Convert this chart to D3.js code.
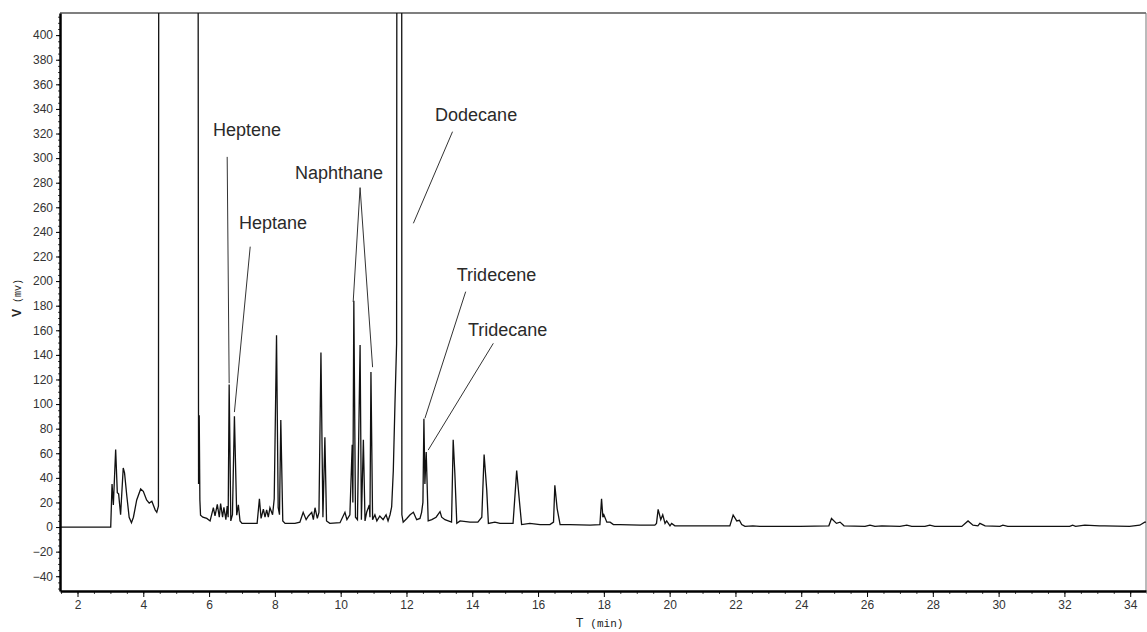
<!DOCTYPE html>
<html>
<head>
<meta charset="utf-8">
<script src="https://cdn.jsdelivr.net/npm/d3@7"></script>
<style>
  body { margin: 0; background: #fff; }
  svg { display: block; }
</style>
</head>
<body>
<div id="chart_gc"></div>
<script>

//////// DATA ////////
// retention time (min) and detector signal (mv); 1000 = off scale (solvent / dodecane)
var times = [1.45, 3.01, 3.05, 3.09, 3.16, 3.21, 3.25, 3.31, 3.39, 3.43, 3.50, 3.57, 3.64, 3.70, 3.80, 3.92,
    4.00, 4.10, 4.18, 4.26, 4.36, 4.41, 4.46, 4.48, 5.65, 5.68, 5.70, 5.72, 5.74, 5.81, 5.93, 6.03,
    6.13, 6.18, 6.25, 6.31, 6.35, 6.41, 6.45, 6.51, 6.55, 6.58, 6.61, 6.66, 6.71, 6.77, 6.84, 6.89,
    6.94, 7.00, 7.24, 7.46, 7.53, 7.58, 7.65, 7.70, 7.75, 7.80, 7.85, 7.93, 7.98, 8.05, 8.10, 8.14,
    8.18, 8.24, 8.31, 8.61, 8.76, 8.86, 8.95, 9.02, 9.12, 9.17, 9.22, 9.29, 9.34, 9.40, 9.46, 9.52,
    9.57, 9.67, 9.98, 10.13, 10.19, 10.28, 10.35, 10.37, 10.40, 10.45, 10.51, 10.59, 10.63, 10.69, 10.74, 10.79,
    10.87, 10.89, 10.92, 10.97, 11.04, 11.10, 11.19, 11.29, 11.38, 11.44, 11.50, 11.55, 11.60, 11.65, 11.70, 11.72,
    11.85, 11.86, 11.90, 12.01, 12.11, 12.16, 12.21, 12.31, 12.41, 12.46, 12.50, 12.53, 12.56, 12.60, 12.66, 12.77,
    12.90, 13.02, 13.07, 13.17, 13.27, 13.37, 13.42, 13.47, 13.53, 13.63, 13.93, 14.17, 14.29, 14.36, 14.44, 14.49,
    14.69, 14.84, 15.00, 15.24, 15.35, 15.43, 15.50, 15.75, 16.06, 16.36, 16.47, 16.51, 16.58, 16.67, 16.97, 17.58,
    17.88, 17.93, 17.97, 18.00, 18.09, 18.19, 18.29, 18.49, 19.10, 19.55, 19.60, 19.65, 19.73, 19.79, 19.86, 19.91,
    20.01, 20.06, 20.16, 20.92, 21.83, 21.93, 22.04, 22.12, 22.19, 22.29, 22.53, 22.74, 23.05, 23.96, 24.84, 24.92,
    25.07, 25.18, 25.30, 25.94, 26.09, 26.24, 26.45, 27.00, 27.21, 27.36, 27.76, 27.91, 28.06, 28.88, 29.07, 29.22,
    29.37, 29.43, 29.59, 30.04, 30.13, 30.28, 32.16, 32.25, 32.34, 32.62, 33.07, 33.22, 33.98, 34.29, 34.44, 34.55];

var signal = [0, 0, 35, 18, 63, 28, 27, 10, 48, 44, 25, 8, 3.5, 8, 22, 31,
    29, 22, 19.5, 21, 14, 12, 17, 1000, 1000, 35, 91, 22, 9.7, 8, 7, 5,
    15.7, 9, 18.4, 8, 19, 8, 16, 6, 17, 8, 116, 5, 10, 90, 9.7, 18,
    5, 3, 3, 3, 23, 7, 14.6, 8, 14, 8, 15.7, 10, 23, 156, 16, 10,
    87, 5, 3, 3, 4, 12, 6, 9, 12, 6, 15.7, 7, 12, 142, 8, 73,
    5, 3, 3.5, 12, 6, 10, 67, 20, 184, 8, 6, 148, 6, 71, 5, 12,
    18, 8, 126, 6, 10, 5, 9, 6, 10, 5, 10, 16.5, 46, 100, 149, 1000,
    1000, 10, 4, 7, 10, 11, 12, 6, 7, 12, 20, 88, 35, 61, 5, 6,
    8, 12.5, 8, 6, 5, 4, 71, 44, 3, 5, 4, 4, 8, 59, 30, 3,
    4, 3, 3, 3, 46, 22, 2, 3, 2, 2, 4, 34, 15, 2, 2, 1.5,
    2, 23, 8, 10, 4, 4, 2, 2, 1.5, 1.5, 3, 14.4, 6, 10, 3, 5,
    1, 3, 1, 1, 1, 9.8, 5, 5.5, 2, 0.5, 1, 0.5, 0.5, 0.5, 1, 7,
    3, 4, 1, 0.5, 1.5, 0.5, 1, 0.5, 1.5, 0.5, 0.5, 1.5, 0.5, 0.5, 5, 1.5,
    1, 3, 1, 0.5, 1.5, 0.5, 0.5, 1.5, 0.5, 1.5, 1, 1, 0.5, 1.5, 4, 4];

var xTickValues = [2, 4, 6, 8, 10, 12, 14, 16, 18, 20, 22, 24, 26, 28, 30, 32, 34];
var yTickValues = [-40, -20, 0, 20, 40, 60, 80, 100, 120, 140, 160, 180, 200, 220, 240, 260, 280, 300, 320, 340, 360, 380, 400];

// peak names, label anchor (t, v) and leader lines (t, v)
var peakNames = ["Heptene", "Heptane", "Naphthane", "Dodecane", "Tridecene", "Tridecane"];
var labelT = [6.12, 6.91, 8.61, 12.87, 13.53, 13.87];
var labelV = [318, 242, 283, 330, 200, 155];
var leaders = [
    [[6.55, 301], [6.61, 117]],
    [[7.25, 228], [6.77, 93.5]],
    [[10.38, 183], [10.59, 276], [10.97, 130]],
    [[13.40, 321.5], [12.21, 247]],
    [[13.80, 191.4], [12.56, 88.4]],
    [[14.64, 149.4], [12.66, 62.6]]
];

//////// CANVAS ////////
var outerWidth = 1147, outerHeight = 632;
var margin = {top: 13, right: 1, bottom: 41, left: 60};
var width = outerWidth - margin.left - margin.right,
    height = outerHeight - margin.top - margin.bottom;

var svg = d3.select("#chart_gc").append("svg")
    .attr("width", outerWidth)
    .attr("height", outerHeight)
    .attr("font-family", "Liberation Sans, Arial, sans-serif");

var g = svg.append("g")
    .attr("transform", "translate(" + margin.left + "," + margin.top + ")");

//////// SCALES ////////
var xScale = d3.scaleLinear()
    .domain([1.468, 34.48])
    .range([0, width]);

var yScale = d3.scaleLinear()
    .domain([-52, 418])
    .range([height, 0]);

// clip for the off-scale peaks
svg.append("defs").append("clipPath")
    .attr("id", "plotClip")
  .append("rect")
    .attr("width", width)
    .attr("height", height);

//////// FRAME ////////
g.append("line")
    .attr("x1", 0).attr("x2", width)
    .attr("y1", 0).attr("y2", 0)
    .attr("stroke", "#555").attr("stroke-width", 1.5);

g.append("line")
    .attr("x1", width).attr("x2", width)
    .attr("y1", 0).attr("y2", height)
    .attr("stroke", "#777").attr("stroke-width", 1);

//////// TRACE ////////
var trace = times.map(function(t, i) { return [t, signal[i]]; });

var line = d3.line()
    .x(function(d) { return xScale(d[0]); })
    .y(function(d) { return yScale(d[1]); });

g.append("path")
    .datum(trace)
    .attr("clip-path", "url(#plotClip)")
    .attr("fill", "none")
    .attr("stroke", "#111")
    .attr("stroke-width", 1.3)
    .attr("stroke-linejoin", "miter")
    .attr("d", line);

//////// AXES ////////
var xMinor = d3.range(1.5, 34.6, 0.5);
var yMinor = d3.range(-50, 416, 5);

g.append("g")
    .attr("class", "x minor")
    .attr("transform", "translate(0," + height + ")")
    .call(d3.axisBottom(xScale).tickValues(xMinor).tickSize(3).tickFormat(""))
    .call(function(a) { a.select(".domain").remove(); });

g.append("g")
    .attr("class", "y minor")
    .call(d3.axisLeft(yScale).tickValues(yMinor).tickSize(2).tickFormat(""))
    .call(function(a) { a.select(".domain").remove(); });

var xAxis = g.append("g")
    .attr("class", "x axis")
    .attr("transform", "translate(0," + height + ")")
    .call(d3.axisBottom(xScale).tickValues(xTickValues).tickSize(6).tickSizeOuter(0).tickPadding(3));

var yAxis = g.append("g")
    .attr("class", "y axis")
    .call(d3.axisLeft(yScale).tickValues(yTickValues).tickSize(4).tickSizeOuter(0).tickPadding(3));

g.selectAll(".axis .domain")
    .attr("stroke", "#000")
    .attr("stroke-width", 2.5);

g.selectAll(".axis text, .minor line")
    .attr("fill", "#333");

g.selectAll(".axis text")
    .attr("font-size", 12)
    .attr("font-family", "Liberation Sans, Arial, sans-serif");

g.selectAll(".minor line").attr("stroke", "#444");

// axis titles
var xTitle = svg.append("text")
    .attr("x", 576)
    .attr("y", 627)
    .attr("fill", "#222")
    .attr("font-size", 12);
xTitle.append("tspan").text("T");
xTitle.append("tspan")
    .attr("dx", 7)
    .attr("font-family", "Liberation Mono, DejaVu Sans Mono, monospace")
    .attr("font-size", 11)
    .text("(min)");

var yTitle = svg.append("text")
    .attr("transform", "translate(21,317) rotate(-90)")
    .attr("fill", "#222")
    .attr("font-size", 12);
yTitle.append("tspan")
    .attr("font-weight", "bold")
    .text("V");
yTitle.append("tspan")
    .attr("dx", 6)
    .attr("font-family", "Liberation Mono, DejaVu Sans Mono, monospace")
    .attr("font-size", 10)
    .text("(mv)");

//////// PEAK LABELS ////////
var leaderLine = d3.line()
    .x(function(d) { return xScale(d[0]); })
    .y(function(d) { return yScale(d[1]); });

g.selectAll(".leader")
    .data(leaders)
    .enter().append("path")
        .attr("class", "leader")
        .attr("fill", "none")
        .attr("stroke", "#333")
        .attr("stroke-width", 1)
        .attr("d", leaderLine);

g.selectAll(".peakLabel")
    .data(peakNames)
    .enter().append("text")
        .attr("class", "peakLabel")
        .attr("x", function(d, i) { return xScale(labelT[i]); })
        .attr("y", function(d, i) { return yScale(labelV[i]); })
        .attr("fill", "#2a2a2a")
        .attr("font-size", 18)
        .text(function(d) { return d; });

</script>
</body>
</html>
